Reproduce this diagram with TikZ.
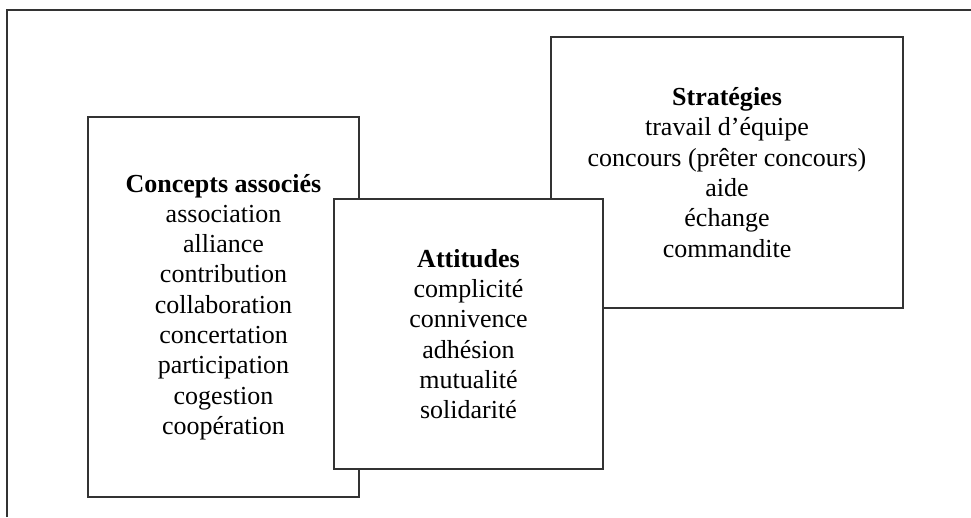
\documentclass[tikz,border=0pt]{standalone}
\usepackage{fontspec}
\setmainfont{Liberation Serif}
\begin{document}
\begin{tikzpicture}[x=1pt,y=-1pt,
  frame/.style={draw=black!80, line width=1.3pt},
  box/.style={frame, fill=white, align=center, inner sep=0pt,
    font=\fontsize{26}{30.3}\selectfont}]
\useasboundingbox (0,0) rectangle (971,517);
\coordinate (fbl) at (7,517);
\coordinate (ftl) at (7,10);
\coordinate (ftr) at (971,10);
\draw[frame] (fbl) -- (ftl) -- (ftr);
\node[box, minimum width=271pt, minimum height=380pt] (concepts) at (223.5,307)
  {\textbf{Concepts associés}\\association\\alliance\\contribution\\collaboration\\concertation\\participation\\cogestion\\coopération};
\node[box, minimum width=352pt, minimum height=271pt] (strategies) at (727,172.5)
  {\textbf{Stratégies}\\travail d’équipe\\concours (prêter concours)\\aide\\échange\\commandite};
\node[box, minimum width=269pt, minimum height=270pt] (attitudes) at (468.5,334)
  {\textbf{Attitudes}\\complicité\\connivence\\adhésion\\mutualité\\solidarité};
\end{tikzpicture}
\end{document}
